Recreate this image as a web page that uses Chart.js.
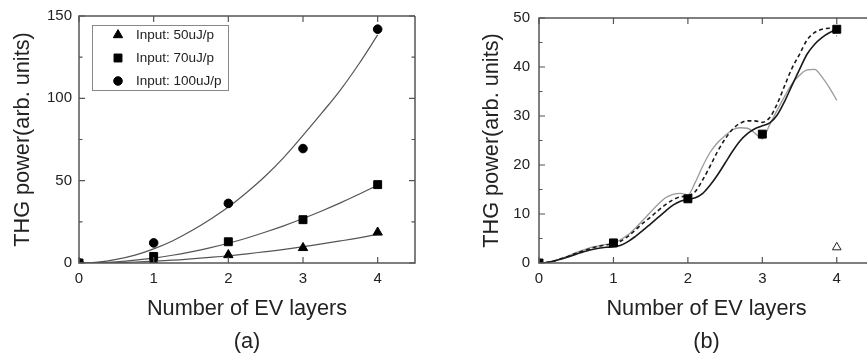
<!DOCTYPE html>
<html>
<head>
<meta charset="utf-8">
<script src="https://cdn.jsdelivr.net/npm/chart.js@4.4.1/dist/chart.umd.min.js"></script>
<style>
  html, body { margin: 0; padding: 0; background: #fff; overflow: hidden; }
  .panel { position: absolute; top: 0; height: 356px; }
  #wrapA { left: 0; width: 433px; }
  #wrapB { left: 433px; width: 441px; }
</style>
</head>
<body>
<div class="panel" id="wrapA"><canvas id="chartA" width="433" height="356"></canvas></div>
<div class="panel" id="wrapB"><canvas id="chartB" width="441" height="356"></canvas></div>
<script>
// ---- panel (a) data ----
const layers = [0, 1, 2, 3, 4];
const seriesLabels = ["Input: 50uJ/p", "Input: 70uJ/p", "Input: 100uJ/p"];
const p50 = [0, 1.0, 4.9, 9.2, 18.6];
const p70 = [0, 4.0, 12.9, 26.3, 47.6];
const p100 = [0, 12.2, 36.2, 69.5, 142];

const fitX = [0, 0.25, 0.5, 0.75, 1, 1.25, 1.5, 1.75, 2, 2.25, 2.5, 2.75, 3, 3.25, 3.5, 3.75, 4];
const fit50 = [0, 0.07, 0.28, 0.62, 1.1, 1.7, 2.5, 3.4, 4.4, 5.6, 6.9, 8.3, 9.9, 11.6, 13.4, 15.3, 17.4];
const fit70 = [0, 0.19, 0.75, 1.7, 3.0, 4.7, 6.8, 9.2, 12.0, 15.2, 18.8, 22.7, 27.0, 31.6, 36.5, 41.8, 47.3];
const fit100 = [0, 0.54, 2.2, 4.8, 8.6, 13.4, 19.4, 26.3, 34.0, 43.0, 53.0, 64.5, 77.5, 91.0, 105.0, 121.0, 138.5];

// ---- panel (b) data ----
const sqB = [0, 4.1, 13.1, 26.3, 47.7];
const triX = [4];
const triY = [3.2];
const curveX = [0, 0.1, 0.2, 0.3, 0.4, 0.5, 0.6, 0.7, 0.8, 0.9, 1.0, 1.1, 1.2, 1.3, 1.4, 1.5, 1.6, 1.7, 1.8, 1.9, 2.0,
  2.1, 2.2, 2.3, 2.4, 2.5, 2.6, 2.7, 2.8, 2.9, 3.0, 3.1, 3.2, 3.3, 3.4, 3.5, 3.6, 3.7, 3.8, 3.9, 4.0];
const solidB = [0, 0.1, 0.4, 0.8, 1.3, 1.8, 2.3, 2.7, 3.0, 3.2, 3.3, 3.6, 4.4, 5.5, 6.7, 8.0, 9.3, 10.6, 11.8, 12.6, 13.0,
  13.3, 14.2, 15.9, 18.0, 20.4, 22.8, 24.9, 26.4, 27.4, 28.0, 28.6, 30.2, 33.0, 36.3, 39.5, 42.6, 44.6, 46.0, 47.0, 47.6];
const dashB = [0, 0.1, 0.4, 0.9, 1.4, 2.0, 2.5, 3.0, 3.4, 3.7, 3.9, 4.5, 5.5, 6.8, 8.2, 9.4, 10.7, 11.9, 12.9, 13.5, 13.7,
  14.6, 17.0, 19.8, 22.8, 25.3, 27.3, 28.5, 29.0, 29.0, 28.7, 29.7, 32.5, 36.2, 39.8, 42.6, 45.5, 47.0, 47.7, 47.9, 46.3];
const grayB = [0, 0.1, 0.4, 0.9, 1.5, 2.1, 2.7, 3.2, 3.5, 3.8, 4.0, 4.8, 5.8, 7.2, 8.8, 10.4, 12.0, 13.3, 14.0, 14.2, 13.9,
  16.5, 19.8, 22.6, 24.6, 26.0, 27.2, 27.6, 27.5, 26.5, 25.3, 28.3, 31.2, 34.0, 36.6, 38.3, 39.4, 39.5, 38.0, 35.8, 33.2];

const xTicks = [0, 1, 2, 3, 4];
const yTicksA = [0, 50, 100, 150];
const yTicksB = [0, 10, 20, 30, 40, 50];

const FONT = "'Liberation Sans', Arial, sans-serif";
const TEXT = "#222";
const FRAME = "#555";

const pts = (xs, ys) => xs.map((x, i) => ({ x: x, y: ys[i] }));

// frame around the plot with inward ticks; panel (b) runs off the page on the right
const frameTicks = {
  id: "frameTicks",
  afterDatasetsDraw(chart, args, opts) {
    const { ctx, chartArea, scales } = chart;
    const { left, right, top, bottom } = chartArea;
    const openRight = opts && opts.openRight;
    ctx.save();
    ctx.strokeStyle = FRAME;
    ctx.lineWidth = 1.5;
    ctx.beginPath();
    ctx.moveTo(right, top); ctx.lineTo(left, top); ctx.lineTo(left, bottom); ctx.lineTo(right, bottom);
    if (!openRight) ctx.lineTo(right, top);
    ctx.stroke();
    ctx.lineWidth = 1.2;
    ctx.beginPath();
    scales.x.ticks.forEach((t) => {
      const px = scales.x.getPixelForValue(t.value);
      ctx.moveTo(px, bottom); ctx.lineTo(px, bottom - 6);
      ctx.moveTo(px, top); ctx.lineTo(px, top + 6);
    });
    const yt = scales.y.ticks;
    yt.forEach((t, i) => {
      const py = scales.y.getPixelForValue(t.value);
      ctx.moveTo(left, py); ctx.lineTo(left + 6, py);
      if (!openRight) { ctx.moveTo(right, py); ctx.lineTo(right - 6, py); }
      if (i < yt.length - 1) {
        const pm = scales.y.getPixelForValue((t.value + yt[i + 1].value) / 2);
        ctx.moveTo(left, pm); ctx.lineTo(left + 3.5, pm);
        if (!openRight) { ctx.moveTo(right, pm); ctx.lineTo(right - 3.5, pm); }
      }
    });
    ctx.stroke();
    ctx.restore();
  },
};

// boxed legend inside panel (a)
const boxLegend = {
  id: "boxLegend",
  afterDraw(chart) {
    if (!chart.options.plugins.boxLegend) return;
    const { ctx } = chart;
    ctx.save();
    ctx.strokeStyle = "#888";
    ctx.lineWidth = 1;
    ctx.strokeRect(92.5, 25.5, 136, 65);
    ctx.font = "13.5px " + FONT;
    ctx.textBaseline = "middle";
    const rows = [35, 58, 81];
    seriesLabels.forEach((label, i) => {
      const ds = chart.data.datasets[i];
      ctx.fillStyle = "#000";
      ctx.strokeStyle = "#000";
      Chart.helpers.drawPoint(ctx, { pointStyle: ds.pointStyle, radius: ds.pointRadius, rotation: 0, borderWidth: 1 }, 118, rows[i]);
      ctx.fillStyle = TEXT;
      ctx.fillText(label, 136, rows[i] + 0.5);
    });
    ctx.restore();
  },
};

function axes(yMax, yTicks, yWidth, yTitlePad, yLabelPad) {
  return {
    x: {
      type: "linear",
      min: 0,
      max: 4.5,
      afterBuildTicks: (s) => { s.ticks = xTicks.map((v) => ({ value: v })); },
      afterFit: (s) => { s.height = 58.96; },
      grid: { display: false, drawTicks: false },
      border: { display: false },
      ticks: { color: TEXT, font: { family: FONT, size: 15 }, padding: 7 },
      title: { display: true, text: "Number of EV layers", color: TEXT, font: { family: FONT, size: 21.7 }, padding: { top: 0, bottom: 0 } },
    },
    y: {
      type: "linear",
      min: 0,
      max: yMax,
      afterBuildTicks: (s) => { s.ticks = yTicks.map((v) => ({ value: v })); },
      afterFit: (s) => { s.width = yWidth; },
      grid: { display: false, drawTicks: false },
      border: { display: false },
      ticks: { color: TEXT, font: { family: FONT, size: 15 }, padding: yLabelPad },
      title: { display: true, text: "THG power(arb. units)", color: TEXT, font: { family: FONT, size: 21.7 }, padding: { top: yTitlePad, bottom: 0 } },
    },
  };
}

function panelTitle(text) {
  return {
    display: true,
    text: text,
    position: "bottom",
    fullSize: false,
    color: TEXT,
    font: { family: FONT, size: 21.7, weight: "normal", lineHeight: 1.2 },
    padding: { top: 7, bottom: 1 },
  };
}

const markerA = (label, ys, style, r) => ({
  label: label,
  data: pts(layers, ys),
  showLine: false,
  pointStyle: style,
  pointRadius: r,
  pointBackgroundColor: "#000",
  pointBorderColor: "#000",
  pointBorderWidth: 1,
});

const fitLine = (ys) => ({
  data: pts(fitX, ys),
  showLine: true,
  borderColor: "#555",
  borderWidth: 1.2,
  pointRadius: 0,
  tension: 0.4,
});

new Chart(document.getElementById("chartA"), {
  type: "scatter",
  data: {
    datasets: [
      markerA(seriesLabels[0], p50, "triangle", 5.4),
      markerA(seriesLabels[1], p70, "rect", 5.6),
      markerA(seriesLabels[2], p100, "circle", 4.3),
      fitLine(fit50),
      fitLine(fit70),
      fitLine(fit100),
    ],
  },
  options: {
    responsive: false,
    animation: false,
    layout: { autoPadding: false, padding: { left: 0, right: 18, top: 16, bottom: 0 } },
    plugins: {
      legend: { display: false },
      tooltip: { enabled: false },
      title: panelTitle("(a)"),
      boxLegend: true,
      frameTicks: { openRight: false },
    },
    scales: axes(150, yTicksA, 79, 10, 7),
  },
  plugins: [frameTicks, boxLegend],
});

const curveB = (ys, color, width, dash) => ({
  data: pts(curveX, ys),
  showLine: true,
  borderColor: color,
  borderWidth: width,
  borderDash: dash,
  pointRadius: 0,
  cubicInterpolationMode: "monotone",
});

new Chart(document.getElementById("chartB"), {
  type: "scatter",
  data: {
    datasets: [
      {
        data: pts(layers, sqB),
        showLine: false,
        pointStyle: "rect",
        pointRadius: 5.6,
        pointBackgroundColor: "#000",
        pointBorderColor: "#000",
      },
      {
        data: pts(triX, triY),
        showLine: false,
        pointStyle: "triangle",
        pointRadius: 5,
        pointBackgroundColor: "#fff",
        pointBorderColor: "#222",
        pointBorderWidth: 1,
      },
      curveB(solidB, "#1a1a1a", 1.6, []),
      curveB(dashB, "#1a1a1a", 1.6, [4, 3]),
      curveB(grayB, "#9a9a9a", 1.3, []),
    ],
  },
  options: {
    responsive: false,
    animation: false,
    layout: { autoPadding: false, padding: { left: 0, right: 0, top: 16, bottom: 0 } },
    plugins: {
      legend: { display: false },
      tooltip: { enabled: false },
      title: panelTitle("(b)"),
      frameTicks: { openRight: true },
    },
    scales: axes(50, yTicksB, 106, 46, 9),
  },
  plugins: [frameTicks],
});
</script>
</body>
</html>
